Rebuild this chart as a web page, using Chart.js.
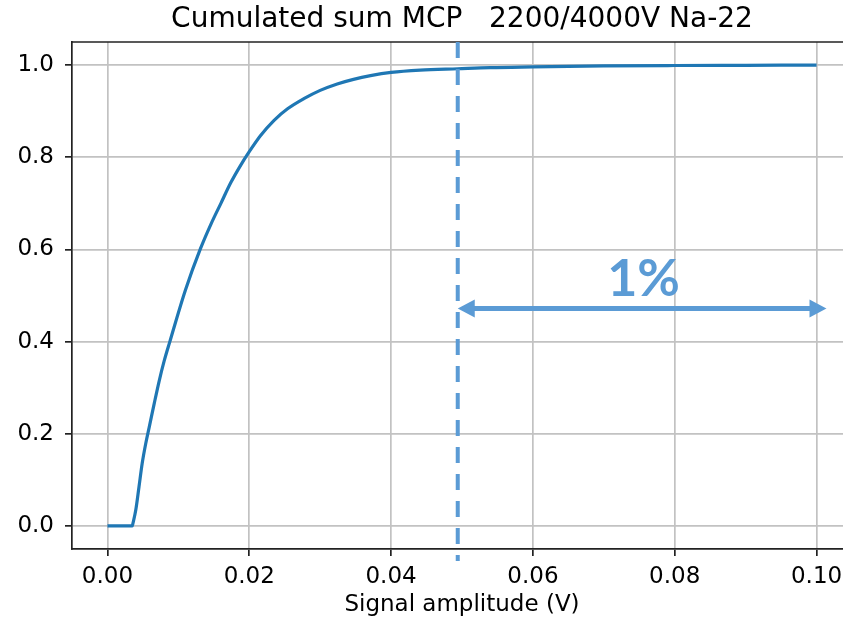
<!DOCTYPE html>
<html>
<head>
<meta charset="utf-8">
<script src="https://cdn.jsdelivr.net/npm/chart.js@4"></script>
<style>
  html, body { margin: 0; padding: 0; background: #fff; overflow: hidden; }
  #wrap { width: 843px; height: 620px; overflow: hidden; position: relative; }
  canvas { display: block; position: absolute; left: 0; top: 0; }
</style>
</head>
<body>
<div id="wrap"><canvas id="c" width="880" height="620" style="width:880px;height:620px"></canvas></div>
<script>
// Cumulative distribution of MCP signal amplitudes
const amplitude = [0, 0.001, 0.002, 0.003, 0.0035, 0.0036, 0.004, 0.00445, 0.0049, 0.0054,
  0.0059, 0.0066, 0.0073, 0.008, 0.0088, 0.011, 0.0131, 0.0146, 0.016, 0.0174,
  0.0188, 0.02, 0.0216, 0.0235, 0.0254, 0.0277, 0.03, 0.0324, 0.0347, 0.0371,
  0.04, 0.0441, 0.0494, 0.054, 0.06, 0.07, 0.08, 0.09, 0.1];
const cumulated = [0, 0, 0, 0, 0, 0.006, 0.035, 0.085, 0.136, 0.179,
  0.215, 0.266, 0.315, 0.358, 0.40, 0.512, 0.601, 0.655, 0.70, 0.745,
  0.783, 0.812, 0.847, 0.880, 0.905, 0.927, 0.945, 0.959, 0.969, 0.977,
  0.984, 0.989, 0.992, 0.9945, 0.996, 0.998, 0.999, 0.9995, 1.0];

const xTickValues = [0, 0.02, 0.04, 0.06, 0.08, 0.10];
const xTickLabels = ['0.00', '0.02', '0.04', '0.06', '0.08', '0.10'];
const yTickValues = [0, 0.2, 0.4, 0.6, 0.8, 1.0];
const yTickLabels = ['0.0', '0.2', '0.4', '0.6', '0.8', '1.0'];

// Threshold leaving the top 1 % of events, and the span arrow to the right of it
const threshold = 0.0494;
const spanEnd = 0.1014;
const spanLevel = 0.472;
const spanText = '1%';
const spanTextX = 0.0756;
const spanTextY = 0.50;

const BASE_FONT = 'DejaVu Sans';
const ACCENT = '#5b9bd5';
const SPINE = '#222';

// top spine of the axes box
const frame = {
  id: 'frame',
  afterDatasetsDraw(chart) {
    const { ctx, chartArea: a } = chart;
    ctx.save();
    ctx.strokeStyle = SPINE;
    ctx.lineWidth = 1.7;
    ctx.beginPath();
    ctx.moveTo(a.left, a.top);
    ctx.lineTo(a.right, a.top);
    ctx.stroke();
    ctx.restore();
  }
};

const span = {
  id: 'span',
  afterDraw(chart) {
    const { ctx, chartArea: a, scales: { x, y } } = chart;
    const tx = x.getPixelForValue(threshold);
    ctx.save();
    // dashed threshold marker
    ctx.strokeStyle = ACCENT;
    ctx.lineWidth = 4;
    ctx.setLineDash([16, 11]);
    ctx.beginPath();
    ctx.moveTo(tx, a.top);
    ctx.lineTo(tx, a.bottom + 12);
    ctx.stroke();
    ctx.setLineDash([]);

    // double-headed arrow
    const ay = y.getPixelForValue(spanLevel);
    const ex = x.getPixelForValue(spanEnd);
    const head = 17, half = 9;
    ctx.lineWidth = 5;
    ctx.beginPath();
    ctx.moveTo(tx + head - 2, ay);
    ctx.lineTo(ex - head + 2, ay);
    ctx.stroke();
    ctx.fillStyle = ACCENT;
    ctx.beginPath();
    ctx.moveTo(tx, ay);
    ctx.lineTo(tx + head, ay - half);
    ctx.lineTo(tx + head, ay + half);
    ctx.closePath();
    ctx.fill();
    ctx.beginPath();
    ctx.moveTo(ex, ay);
    ctx.lineTo(ex - head, ay - half);
    ctx.lineTo(ex - head, ay + half);
    ctx.closePath();
    ctx.fill();

    // label
    ctx.font = 'bold 52px Lato';
    ctx.textAlign = 'center';
    ctx.textBaseline = 'alphabetic';
    ctx.fillText(spanText, x.getPixelForValue(spanTextX), y.getPixelForValue(spanTextY));
    ctx.restore();
  }
};

const tickFont = { family: BASE_FONT, size: 23 };

new Chart(document.getElementById('c'), {
  type: 'line',
  data: {
    datasets: [{
      data: amplitude.map((v, i) => ({ x: v, y: cumulated[i] })),
      borderColor: '#1f77b4',
      borderWidth: 3.2,
      pointRadius: 0,
      fill: false,
      cubicInterpolationMode: 'monotone'
    }]
  },
  options: {
    responsive: false,
    animation: false,
    devicePixelRatio: 1,
    events: [],
    layout: { padding: { left: 0, right: 28, top: 0, bottom: 0 } },
    plugins: {
      legend: { display: false },
      tooltip: { enabled: false },
      title: {
        display: true,
        fullSize: false,
        text: 'Cumulated sum MCP   2200/4000V Na-22',
        color: '#000',
        font: { family: BASE_FONT, size: 28, weight: 'normal' },
        padding: { top: 3, bottom: 5.4 }
      }
    },
    scales: {
      x: {
        type: 'linear',
        min: -0.005,
        max: 0.105,
        afterBuildTicks: s => { s.ticks = xTickValues.map(v => ({ value: v })); },
        afterFit: s => { s.height = 71; },
        ticks: {
          callback: v => xTickLabels[xTickValues.indexOf(v)],
          color: '#000',
          font: tickFont,
          padding: 7,
          maxRotation: 0,
          autoSkip: false
        },
        grid: { color: '#c2c2c2', lineWidth: 1.7, tickColor: SPINE, tickLength: 7, tickWidth: 1.7 },
        border: { color: SPINE, width: 1.7 },
        title: {
          display: true,
          text: 'Signal amplitude (V)',
          color: '#000',
          font: tickFont,
          padding: { top: 0, bottom: 1 }
        }
      },
      y: {
        type: 'linear',
        min: -0.05,
        max: 1.05,
        afterBuildTicks: s => { s.ticks = yTickValues.map(v => ({ value: v })); },
        afterFit: s => { s.width = 72; },
        ticks: {
          callback: v => yTickLabels[yTickValues.indexOf(v)],
          color: '#000',
          font: tickFont,
          padding: 11
        },
        grid: { color: '#c2c2c2', lineWidth: 1.7, tickColor: SPINE, tickLength: 7, tickWidth: 1.7 },
        border: { color: SPINE, width: 1.7 }
      }
    }
  },
  plugins: [frame, span]
});
</script>
</body>
</html>
